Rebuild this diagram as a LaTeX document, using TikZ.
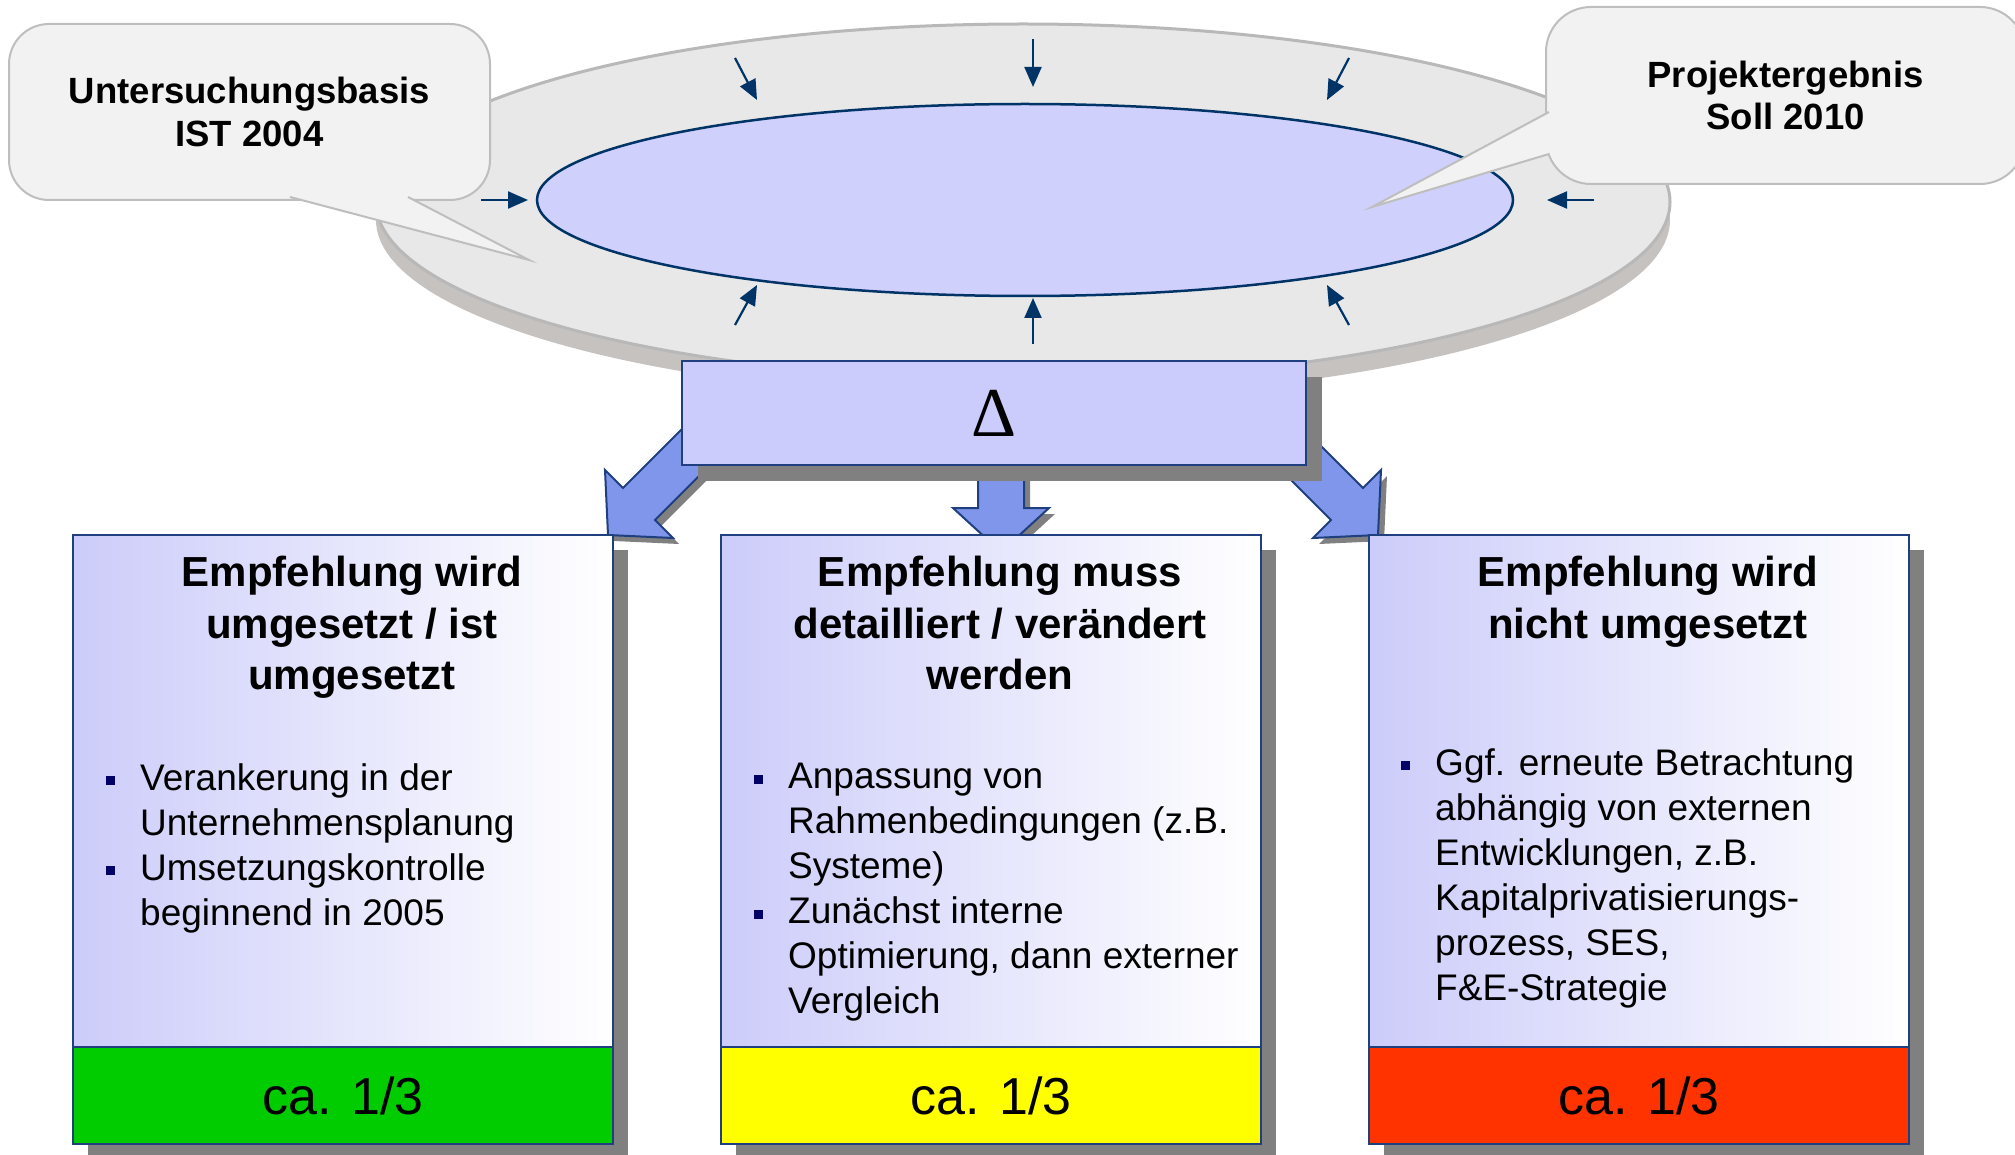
\documentclass[tikz,border=0pt]{standalone}
\usepackage{fontspec}
\setmainfont{Liberation Sans}
\newfontfamily\deltafont{Liberation Serif}
\usetikzlibrary{positioning}
\usetikzlibrary{shapes.geometric, arrows.meta, positioning}

\definecolor{diskgray}{HTML}{E8E8E8}
\definecolor{diskline}{HTML}{B8B8B8}
\definecolor{diskshade}{HTML}{C6C2C0}
\definecolor{corefill}{HTML}{D0D0FC}
\definecolor{navy}{HTML}{003366}
\definecolor{boxline}{HTML}{1F3F7F}
\definecolor{callfill}{HTML}{F2F2F2}
\definecolor{callline}{HTML}{BEBEBE}
\definecolor{deltafill}{HTML}{CCCCFC}
\definecolor{flowfill}{HTML}{7F96EA}
\definecolor{shadowgray}{HTML}{808080}
\definecolor{lavender}{HTML}{CCCCFA}
\definecolor{bulnavy}{HTML}{000066}
\definecolor{okgreen}{HTML}{00CC00}
\definecolor{midyellow}{HTML}{FFFF00}
\definecolor{nored}{HTML}{FF3300}

\tikzstyle{pointer} = [navy, line width=2.2pt, -{Triangle[length=20pt, width=17pt]}]
\tikzstyle{callbox} = [draw=callline, fill=callfill, line width=2pt, rounded corners=40pt, font=\fontsize{36.5}{42.5}\selectfont\bfseries, align=center]
\tikzstyle{calltail} = [draw=callline, fill=callfill, line width=2pt, line join=miter]
\tikzstyle{flow} = [draw=boxline, fill=flowfill, line width=2pt, line join=miter]
\tikzstyle{panel} = [draw=boxline, line width=2pt, left color=lavender, right color=white, minimum width=540pt, minimum height=512pt, outer sep=0pt, anchor=north west]
\tikzstyle{band} = [draw=boxline, line width=2pt, minimum width=540pt, minimum height=97pt, outer sep=0pt, font=\fontsize{52}{60}\selectfont]
\tikzstyle{heading} = [font=\fontsize{42}{51.5}\selectfont\bfseries, align=center, inner sep=0pt]
\tikzstyle{body} = [font=\fontsize{37}{45}\selectfont, align=left, inner sep=0pt, anchor=north west]

\newcommand{\bul}{\llap{\textcolor{bulnavy}{\rule[5pt]{9pt}{9pt}}\hspace{25pt}}}

\begin{document}
\begin{tikzpicture}[x=1pt, y=-1pt]
    \useasboundingbox (0,0) rectangle (2015,1155);

    % Disk with the inner target area
    \fill[diskshade] (1023,220) ellipse [x radius=647, y radius=178];
    \node[draw=diskline, fill=diskgray, line width=3pt, ellipse, minimum width=1294pt, minimum height=356pt] (disk) at (1023,202) {};
    \node[draw=navy, fill=corefill, line width=2.5pt, ellipse, minimum width=976pt, minimum height=192pt] (core) at (1025,200) {};

    % Callouts
    \node[callbox, minimum width=481pt, minimum height=176pt] (base) at (249.5,112) {Untersuchungsbasis\\IST 2004};
    \filldraw[calltail] (290,197) -- (529,260) -- (408,197);
    \node[callbox, rounded corners=45pt, minimum width=479pt, minimum height=177pt] (goal) at (1785.5,95.5) {Projektergebnis\\Soll 2010};
    \filldraw[calltail] (1549,112) -- (1372,207) -- (1549,154);

    % Small arrows pointing at the core
    \foreach \n/\ax/\ay/\bx/\by in {1/1033/39/1033/87, 2/735/58/757/100, 3/1349/58/1327/100,
        4/481/200/528/200, 5/1594/200/1547/200, 6/735/325/757/285, 7/1033/344/1033/298, 8/1349/325/1327/285} {
        \coordinate (s\n) at (\ax,\ay);
        \coordinate (e\n) at (\bx,\by);
        \draw[pointer] (s\n) -- (e\n);
    }

    % Flow arrows from the delta box
    \coordinate (tipL) at (608,535);
    \coordinate (tipM) at (1001,552);
    \coordinate (tipR) at (1378,535);
    \fill[shadowgray] ([shift={(6,6)}]tipL) -- ++(-3,-65) -- ++(18,18) -- ++(75,-75) -- ++(32,32) -- ++(-75,75) -- ++(18,18) -- cycle;
    \fill[shadowgray] ([shift={(6,6)}]tipM) -- ++(48,-44) -- ++(-25,0) -- ++(0,-66) -- ++(-46,0) -- ++(0,66) -- ++(-25,0) -- cycle;
    \fill[shadowgray] ([shift={(6,6)}]tipR) -- ++(3,-65) -- ++(-18,18) -- ++(-75,-75) -- ++(-32,32) -- ++(75,75) -- ++(-18,18) -- cycle;
    \path[flow] (tipL) -- ++(-3,-65) -- ++(18,18) -- ++(75,-75) -- ++(32,32) -- ++(-75,75) -- ++(18,18) -- cycle;
    \path[flow] (tipM) -- ++(48,-44) -- ++(-25,0) -- ++(0,-66) -- ++(-46,0) -- ++(0,66) -- ++(-25,0) -- cycle;
    \path[flow] (tipR) -- ++(3,-65) -- ++(-18,18) -- ++(-75,-75) -- ++(-32,32) -- ++(75,75) -- ++(-18,18) -- cycle;

    % Delta box
    \fill[shadowgray] (698,377) rectangle (1322,481);
    \node[draw=boxline, fill=deltafill, line width=2pt, minimum width=624pt, minimum height=104pt, font=\deltafont\fontsize{70}{80}\selectfont] (delta) at (994,413) {Δ};

    % Result boxes
    \fill[shadowgray] (88,550) rectangle (628,1159);
    \fill[shadowgray] (736,550) rectangle (1276,1159);
    \fill[shadowgray] (1384,550) rectangle (1924,1159);

    \node[panel] (P1) at (73,535) {};
    \node[band, fill=okgreen, below=0pt of P1] (Q1) {ca. 1/3};
    \node[heading, below=21pt of P1.north, xshift=9pt] (H1) {Empfehlung wird\\umgesetzt / ist\\umgesetzt};
    \node[body, below right=228pt and 67pt of P1.north west] (B1) {\bul Verankerung in der\\Unternehmensplanung\\\bul Umsetzungskontrolle\\beginnend in 2005};

    \node[panel, right=108pt of P1] (P2) {};
    \node[band, fill=midyellow, below=0pt of P2] (Q2) {ca. 1/3};
    \node[heading, below=21pt of P2.north, xshift=9pt] (H2) {Empfehlung muss\\detailliert / verändert\\werden};
    \node[body, below right=228pt and 67pt of P2.north west] (B2) {\bul Anpassung von\\Rahmenbedingungen (z.B.\\Systeme)\\\bul Zunächst interne\\Optimierung, dann externer\\Vergleich};

    \node[panel, right=108pt of P2] (P3) {};
    \node[band, fill=nored, below=0pt of P3] (Q3) {ca. 1/3};
    \node[heading, below=21pt of P3.north, xshift=9pt] (H3) {Empfehlung wird\\nicht umgesetzt};
    \node[body, below right=213pt and 66pt of P3.north west] (B3) {\bul Ggf. erneute Betrachtung\\abhängig von externen\\Entwicklungen, z.B.\\Kapitalprivatisierungs-\\prozess, SES,\\F\&E-Strategie};
\end{tikzpicture}
\end{document}
